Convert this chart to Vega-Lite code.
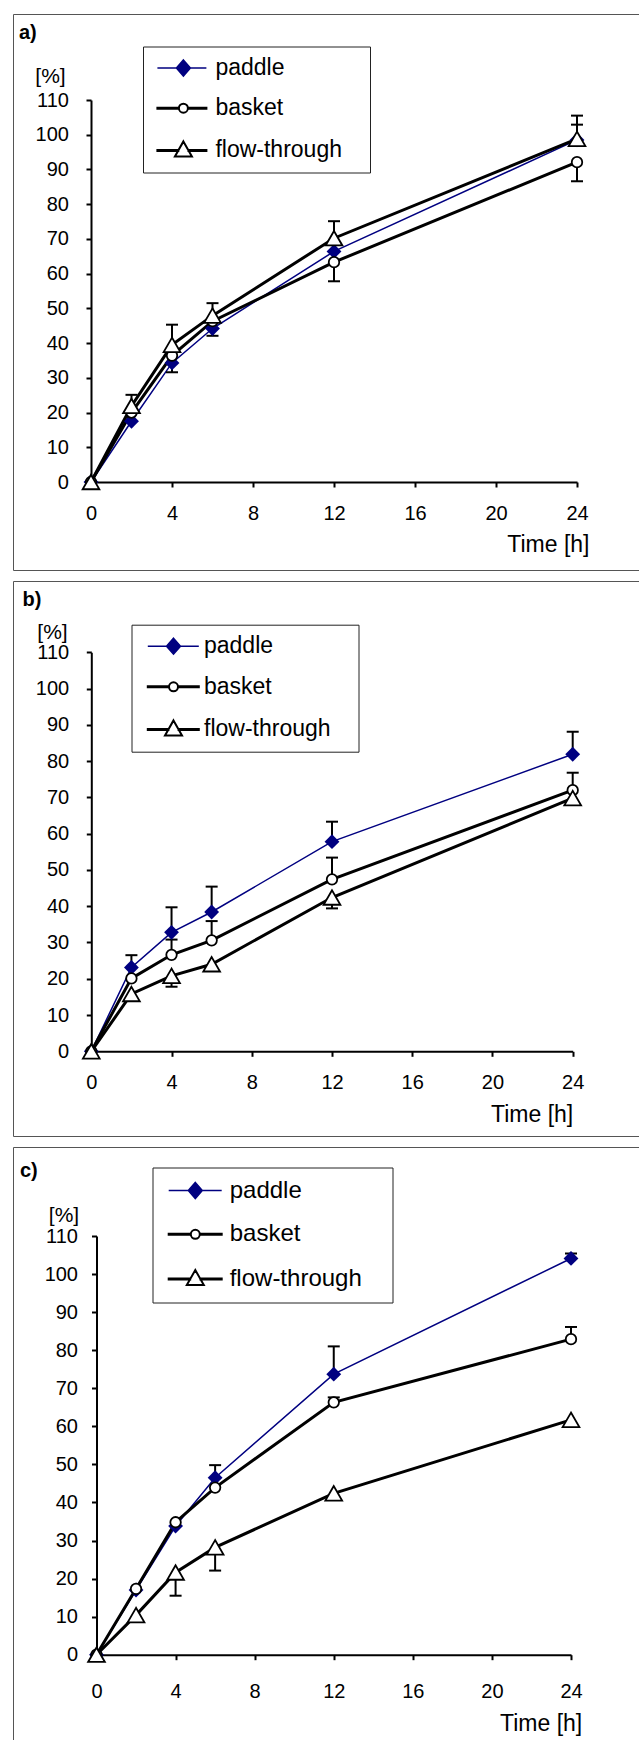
{
  "$schema": "https://vega.github.io/schema/vega-lite/v6.json",
  "padding": {"left": 12, "top": 13, "right": 0, "bottom": 0},
  "spacing": 9,
  "background": "white",
  "resolve": {"scale": {"color": "independent"}, "legend": {"color": "independent"}},
  "config": {
    "font": "Liberation Sans",
    "view": {"stroke": "#555555", "strokeWidth": 1},
    "axis": {"grid": false, "labelFont": "Liberation Sans", "labelColor": "black", "labelFontSize": 20, "domainColor": "black", "domainWidth": 2, "tickColor": "black", "tickWidth": 2, "tickSize": 5, "labelFlush": false, "labelOverlap": false, "titleFont": "Liberation Sans", "titleFontWeight": "normal", "titleColor": "black"},
    "legend": {"labelFont": "Liberation Sans", "labelColor": "black", "strokeColor": "#222222", "fillColor": "white", "symbolSize": 4, "titleOrient": "right", "titleFontSize": 1},
    "title": {"font": "Liberation Sans", "fontSize": 20, "fontWeight": "bold", "color": "black"}
  },
  "data": {"values": [
    {"p":"a","s":"paddle","t":0,"y":0},
    {"p":"a","s":"paddle","t":2,"y":17.5},
    {"p":"a","s":"paddle","t":4,"y":34.3,"e":31.6},
    {"p":"a","s":"paddle","t":6,"y":44.2,"e":42.1},
    {"p":"a","s":"paddle","t":12,"y":66.4},
    {"p":"a","s":"paddle","t":24,"y":98.5,"e":102.9},
    {"p":"a","s":"basket","t":0,"y":0},
    {"p":"a","s":"basket","t":2,"y":20},
    {"p":"a","s":"basket","t":4,"y":36.4},
    {"p":"a","s":"basket","t":6,"y":46.3},
    {"p":"a","s":"basket","t":12,"y":63.3,"e":57.8},
    {"p":"a","s":"basket","t":24,"y":92.1,"e":86.6},
    {"p":"a","s":"flow-through","t":0,"y":0},
    {"p":"a","s":"flow-through","t":2,"y":21.9,"e":25.1},
    {"p":"a","s":"flow-through","t":4,"y":39.5,"e":45.3},
    {"p":"a","s":"flow-through","t":6,"y":47.9,"e":51.5},
    {"p":"a","s":"flow-through","t":12,"y":70.2,"e":75.1},
    {"p":"a","s":"flow-through","t":24,"y":98.8,"e":105.5},
    {"p":"b","s":"paddle","t":0,"y":0},
    {"p":"b","s":"paddle","t":2,"y":23.1,"e":26.5},
    {"p":"b","s":"paddle","t":4,"y":32.8,"e":39.7},
    {"p":"b","s":"paddle","t":6,"y":38.4,"e":45.4},
    {"p":"b","s":"paddle","t":12,"y":57.8,"e":63.3},
    {"p":"b","s":"paddle","t":24,"y":81.9,"e":88.1},
    {"p":"b","s":"basket","t":0,"y":0},
    {"p":"b","s":"basket","t":2,"y":20.1},
    {"p":"b","s":"basket","t":4,"y":26.6,"e":30.8},
    {"p":"b","s":"basket","t":6,"y":30.6,"e":35.9},
    {"p":"b","s":"basket","t":12,"y":47.4,"e":53.4},
    {"p":"b","s":"basket","t":24,"y":72,"e":76.8},
    {"p":"b","s":"flow-through","t":0,"y":0},
    {"p":"b","s":"flow-through","t":2,"y":15.8},
    {"p":"b","s":"flow-through","t":4,"y":20.8,"e":17.8},
    {"p":"b","s":"flow-through","t":6,"y":24},
    {"p":"b","s":"flow-through","t":12,"y":42.4,"e":39.4},
    {"p":"b","s":"flow-through","t":24,"y":69.8},
    {"p":"c","s":"paddle","t":0,"y":0},
    {"p":"c","s":"paddle","t":2,"y":17},
    {"p":"c","s":"paddle","t":4,"y":33.8},
    {"p":"c","s":"paddle","t":6,"y":46.5,"e":49.8},
    {"p":"c","s":"paddle","t":12,"y":73.7,"e":81},
    {"p":"c","s":"paddle","t":24,"y":104.1,"e":105.4},
    {"p":"c","s":"basket","t":0,"y":0},
    {"p":"c","s":"basket","t":2,"y":17.3},
    {"p":"c","s":"basket","t":4,"y":34.8},
    {"p":"c","s":"basket","t":6,"y":43.9},
    {"p":"c","s":"basket","t":12,"y":66.3,"e":67.6},
    {"p":"c","s":"basket","t":24,"y":82.9,"e":86.1},
    {"p":"c","s":"flow-through","t":0,"y":0},
    {"p":"c","s":"flow-through","t":2,"y":10.4},
    {"p":"c","s":"flow-through","t":4,"y":21.6,"e":15.5},
    {"p":"c","s":"flow-through","t":6,"y":28.2,"e":22.1},
    {"p":"c","s":"flow-through","t":12,"y":42.4},
    {"p":"c","s":"flow-through","t":24,"y":61.7}
  ]},
  "vconcat": [
    {
      "width": 627, "height": 556,
      "title": {"text": "a)", "anchor": "start", "frame": "group", "offset": -45, "dx": 6, "baseline": "alphabetic"},
      "transform": [{"filter": "datum.p === 'a'"}],
      "encoding": {
        "x": {"field": "t", "type": "quantitative", "scale": {"domain": [0, 24], "range": [78, 564], "nice": false, "zero": false},
          "axis": {"values": [0, 4, 8, 12, 16, 20, 24], "title": "Time [h]", "offset": -88, "labelPadding": 16, "titleX": 576, "titleY": 69, "titleAlign": "right", "titleAnchor": null, "titleBaseline": "alphabetic", "titleFontSize": 23}},
        "y": {"field": "y", "type": "quantitative", "scale": {"domain": [0, 110], "range": [468, 86], "nice": false},
          "axis": {"values": [0, 10, 20, 30, 40, 50, 60, 70, 80, 90, 100, 110], "title": "[%]", "offset": -78, "labelPadding": 17.6, "titleAngle": 0, "titleX": -41, "titleY": 68, "titleAlign": "center", "titleBaseline": "alphabetic", "titleFontSize": 21}}
      },
      "layer": [
        {"mark": {"type": "line", "color": "#000080", "strokeWidth": 1.5}, "transform": [{"filter": "datum.s === 'paddle'"}]},
        {"mark": {"type": "line"}, "transform": [{"filter": "datum.s !== 'paddle'"}],
          "encoding": {
            "strokeWidth": {"value": 3},
            "color": {"field": "s", "type": "nominal", "scale": {"domain": ["paddle", "basket", "flow-through"], "range": ["#000080", "black", "black"]},
              "legend": {"orient": "none", "legendX": 130, "legendY": 32.5, "title": " ", "titlePadding": 17.3, "labelFontSize": 23, "labelOffset": 39.4, "rowPadding": 16.2, "padding": 10, "symbolSize": 4, "symbolOpacity": 1,
                "symbolType": {"expr": "datum.value === 'paddle' ? 'M-7.1,0H41.9M18.9,-8L25.9,0L18.9,8L11.9,0Z' : datum.value === 'basket' ? 'M-7.1,-0.5H14.4V0.5H-7.1ZM23.4,-0.5H41.9V0.5H23.4ZM14.4,0A4.5,4.5 0 1,1 23.4,0A4.5,4.5 0 1,1 14.4,0Z' : 'M-7.1,-0.5H13.8V0.5H-7.1ZM24,-0.5H41.9V0.5H24ZM18.9,-9L27.4,6L10.4,6Z'"},
                "symbolFillColor": {"expr": "datum.value === 'paddle' ? '#000080' : 'white'"},
                "symbolStrokeWidth": {"expr": "datum.value === 'paddle' ? 1.5 : 2"}}}
          }},
        {"mark": {"type": "rule", "color": "black", "strokeWidth": 2}, "transform": [{"filter": "isValid(datum.e)"}], "encoding": {"y2": {"field": "e"}}},
        {"mark": {"type": "tick", "orient": "horizontal", "color": "black", "size": 12, "thickness": 2, "opacity": 1}, "transform": [{"filter": "isValid(datum.e)"}], "encoding": {"y": {"field": "e", "type": "quantitative"}}},
        {"mark": {"type": "point", "shape": "diamond", "filled": true, "color": "#000080", "size": 220, "opacity": 1}, "transform": [{"filter": "datum.s === 'paddle'"}]},
        {"mark": {"type": "point", "shape": "circle", "filled": false, "fill": "white", "stroke": "black", "strokeWidth": 1.8, "size": 110, "opacity": 1}, "transform": [{"filter": "datum.s === 'basket'"}]},
        {"mark": {"type": "point", "shape": "triangle-up", "filled": false, "fill": "white", "stroke": "black", "strokeWidth": 1.8, "size": 280, "opacity": 1}, "transform": [{"filter": "datum.s === 'flow-through'"}]}
      ]
    },
    {
      "width": 627, "height": 555,
      "title": {"text": "b)", "anchor": "start", "frame": "group", "offset": -45, "dx": 9.5, "baseline": "alphabetic"},
      "transform": [{"filter": "datum.p === 'b'"}],
      "encoding": {
        "x": {"field": "t", "type": "quantitative", "scale": {"domain": [0, 24], "range": [78.3, 559.7], "nice": false, "zero": false},
          "axis": {"values": [0, 4, 8, 12, 16, 20, 24], "title": "Time [h]", "offset": -84.7, "labelPadding": 16, "titleX": 559.7, "titleY": 70, "titleAlign": "right", "titleAnchor": null, "titleBaseline": "alphabetic", "titleFontSize": 23}},
        "y": {"field": "y", "type": "quantitative", "scale": {"domain": [0, 110], "range": [470.3, 71.3], "nice": false},
          "axis": {"values": [0, 10, 20, 30, 40, 50, 60, 70, 80, 90, 100, 110], "title": "[%]", "offset": -78.3, "labelPadding": 17.6, "titleAngle": 0, "titleX": -39.3, "titleY": 57, "titleAlign": "center", "titleBaseline": "alphabetic", "titleFontSize": 21}}
      },
      "layer": [
        {"mark": {"type": "line", "color": "#000080", "strokeWidth": 1.5}, "transform": [{"filter": "datum.s === 'paddle'"}]},
        {"mark": {"type": "line"}, "transform": [{"filter": "datum.s !== 'paddle'"}],
          "encoding": {
            "strokeWidth": {"value": 3},
            "color": {"field": "s", "type": "nominal", "scale": {"domain": ["paddle", "basket", "flow-through"], "range": ["#000080", "black", "black"]},
              "legend": {"orient": "none", "legendX": 118.5, "legendY": 43.7, "title": " ", "titlePadding": 18, "labelFontSize": 23, "labelOffset": 39.5, "rowPadding": 16.6, "padding": 10, "symbolSize": 4, "symbolOpacity": 1,
                "symbolType": {"expr": "datum.value === 'paddle' ? 'M-5.2,0H45.8M20.5,-8L27.5,0L20.5,8L13.5,0Z' : datum.value === 'basket' ? 'M-5.2,-0.5H16V0.5H-5.2ZM25,-0.5H45.8V0.5H25ZM16,0A4.5,4.5 0 1,1 25,0A4.5,4.5 0 1,1 16,0Z' : 'M-5.2,-0.5H15.4V0.5H-5.2ZM25.6,-0.5H45.8V0.5H25.6ZM20.5,-9L29,6L12,6Z'"},
                "symbolFillColor": {"expr": "datum.value === 'paddle' ? '#000080' : 'white'"},
                "symbolStrokeWidth": {"expr": "datum.value === 'paddle' ? 1.5 : 2"}}}
          }},
        {"mark": {"type": "rule", "color": "black", "strokeWidth": 2}, "transform": [{"filter": "isValid(datum.e)"}], "encoding": {"y2": {"field": "e"}}},
        {"mark": {"type": "tick", "orient": "horizontal", "color": "black", "size": 12, "thickness": 2, "opacity": 1}, "transform": [{"filter": "isValid(datum.e)"}], "encoding": {"y": {"field": "e", "type": "quantitative"}}},
        {"mark": {"type": "point", "shape": "diamond", "filled": true, "color": "#000080", "size": 220, "opacity": 1}, "transform": [{"filter": "datum.s === 'paddle'"}]},
        {"mark": {"type": "point", "shape": "circle", "filled": false, "fill": "white", "stroke": "black", "strokeWidth": 1.8, "size": 110, "opacity": 1}, "transform": [{"filter": "datum.s === 'basket'"}]},
        {"mark": {"type": "point", "shape": "triangle-up", "filled": false, "fill": "white", "stroke": "black", "strokeWidth": 1.8, "size": 280, "opacity": 1}, "transform": [{"filter": "datum.s === 'flow-through'"}]}
      ]
    },
    {
      "width": 627, "height": 600,
      "title": {"text": "c)", "anchor": "start", "frame": "group", "offset": -50, "dx": 7, "baseline": "alphabetic"},
      "transform": [{"filter": "datum.p === 'c'"}],
      "encoding": {
        "x": {"field": "t", "type": "quantitative", "scale": {"domain": [0, 24], "range": [83.5, 558], "nice": false, "zero": false},
          "axis": {"values": [0, 4, 8, 12, 16, 20, 24], "title": "Time [h]", "offset": -92.3, "labelPadding": 21.8, "titleX": 568.7, "titleY": 75.6, "titleAlign": "right", "titleAnchor": null, "titleBaseline": "alphabetic", "titleFontSize": 23}},
        "y": {"field": "y", "type": "quantitative", "scale": {"domain": [0, 110], "range": [507.7, 89], "nice": false},
          "axis": {"values": [0, 10, 20, 30, 40, 50, 60, 70, 80, 90, 100, 110], "title": "[%]", "offset": -83.5, "labelPadding": 14, "titleAngle": 0, "titleX": -33, "titleY": 74.3, "titleAlign": "center", "titleBaseline": "alphabetic", "titleFontSize": 21}}
      },
      "layer": [
        {"mark": {"type": "line", "color": "#000080", "strokeWidth": 1.5}, "transform": [{"filter": "datum.s === 'paddle'"}]},
        {"mark": {"type": "line"}, "transform": [{"filter": "datum.s !== 'paddle'"}],
          "encoding": {
            "strokeWidth": {"value": 3},
            "color": {"field": "s", "type": "nominal", "scale": {"domain": ["paddle", "basket", "flow-through"], "range": ["#000080", "black", "black"]},
              "legend": {"orient": "none", "legendX": 139.5, "legendY": 20.5, "title": " ", "titlePadding": 20, "labelFontSize": 24, "labelOffset": 42.2, "rowPadding": 19.8, "padding": 11, "symbolSize": 4, "symbolOpacity": 1,
                "symbolType": {"expr": "datum.value === 'paddle' ? 'M-6.8,0H46.2M19.8,-8L26.8,0L19.8,8L12.8,0Z' : datum.value === 'basket' ? 'M-6.8,-0.5H15.3V0.5H-6.8ZM24.3,-0.5H46.2V0.5H24.3ZM15.3,0A4.5,4.5 0 1,1 24.3,0A4.5,4.5 0 1,1 15.3,0Z' : 'M-6.8,-0.5H14.7V0.5H-6.8ZM24.9,-0.5H46.2V0.5H24.9ZM19.8,-9L28.3,6L11.3,6Z'"},
                "symbolFillColor": {"expr": "datum.value === 'paddle' ? '#000080' : 'white'"},
                "symbolStrokeWidth": {"expr": "datum.value === 'paddle' ? 1.5 : 2"}}}
          }},
        {"mark": {"type": "rule", "color": "black", "strokeWidth": 2}, "transform": [{"filter": "isValid(datum.e)"}], "encoding": {"y2": {"field": "e"}}},
        {"mark": {"type": "tick", "orient": "horizontal", "color": "black", "size": 12, "thickness": 2, "opacity": 1}, "transform": [{"filter": "isValid(datum.e)"}], "encoding": {"y": {"field": "e", "type": "quantitative"}}},
        {"mark": {"type": "point", "shape": "diamond", "filled": true, "color": "#000080", "size": 220, "opacity": 1}, "transform": [{"filter": "datum.s === 'paddle'"}]},
        {"mark": {"type": "point", "shape": "circle", "filled": false, "fill": "white", "stroke": "black", "strokeWidth": 1.8, "size": 110, "opacity": 1}, "transform": [{"filter": "datum.s === 'basket'"}]},
        {"mark": {"type": "point", "shape": "triangle-up", "filled": false, "fill": "white", "stroke": "black", "strokeWidth": 1.8, "size": 280, "opacity": 1}, "transform": [{"filter": "datum.s === 'flow-through'"}]}
      ]
    }
  ]
}
